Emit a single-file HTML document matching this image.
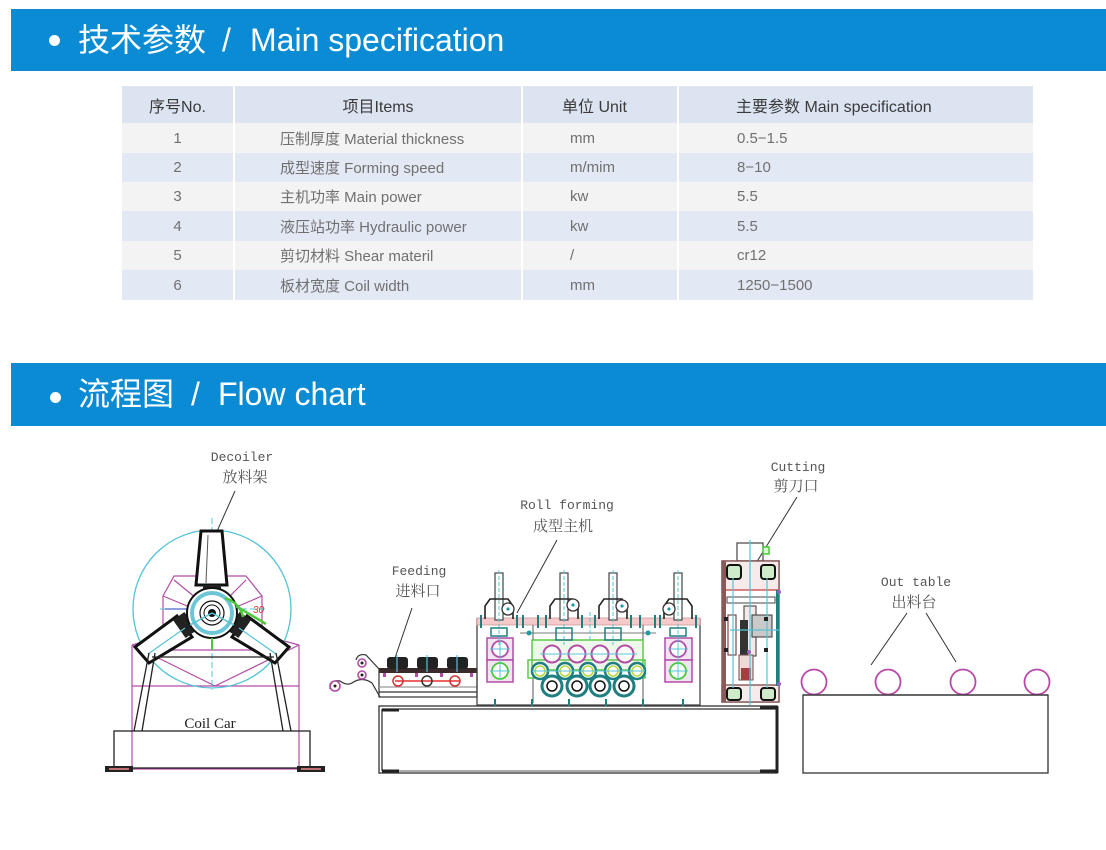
<!DOCTYPE html>
<html><head><meta charset="utf-8">
<style>
*{margin:0;padding:0;box-sizing:border-box}
body{width:1106px;height:850px;background:#fff;position:relative;overflow:hidden;font-family:"Liberation Sans","Noto Sans CJK SC",sans-serif}
.ban{position:absolute;left:11px;width:1095px;height:62px;background:#0a8bd3;color:#fff;font-size:32px;line-height:62px}
.ban span{position:absolute;top:0;white-space:nowrap}
.ban .dot{position:absolute;width:11px;height:11px;border-radius:50%;background:#fff;top:26px;left:38px}
.tbl{position:absolute;left:122px;top:86px;width:911px}
.row{position:absolute;left:0;width:911px;display:flex}
.row div{height:100%;border-right:2px solid #fff;display:flex;align-items:center;white-space:nowrap}
.row div:last-child{border-right:none}
.c1{width:113px;justify-content:center}
.c2{width:288px;padding-left:45px}
.c3{width:156px;padding-left:47px}
.c4{width:354px;padding-left:58px}
.h{background:#dce4f2;color:#3a3a3a;font-size:16px}
.h .c2{justify-content:center;padding-left:0}
.h .c3{padding-left:39px}
.h .c4{padding-left:57px}
.o{background:#f3f3f3;color:#707070;font-size:15px}
.e{background:#e2e9f5;color:#707070;font-size:15px}
</style></head><body>

<div class="ban" style="top:9px">
<div class="dot"></div>
<span style="left:67px">技术参数</span>
<span style="left:211px">/</span>
<span style="left:239px">Main specification</span>
</div>

<div class="tbl">
<div class="row h" style="top:0;height:37px"><div class="c1">序号No.</div><div class="c2">项目Items</div><div class="c3">单位 Unit</div><div class="c4">主要参数 Main specification</div></div>
<div class="row o" style="top:37px;height:30px"><div class="c1">1</div><div class="c2">压制厚度 Material thickness</div><div class="c3">mm</div><div class="c4">0.5−1.5</div></div>
<div class="row e" style="top:67px;height:29px"><div class="c1">2</div><div class="c2">成型速度 Forming speed</div><div class="c3">m/mim</div><div class="c4">8−10</div></div>
<div class="row o" style="top:96px;height:29px"><div class="c1">3</div><div class="c2">主机功率 Main power</div><div class="c3">kw</div><div class="c4">5.5</div></div>
<div class="row e" style="top:125px;height:30px"><div class="c1">4</div><div class="c2">液压站功率 Hydraulic power</div><div class="c3">kw</div><div class="c4">5.5</div></div>
<div class="row o" style="top:155px;height:29px"><div class="c1">5</div><div class="c2">剪切材料 Shear materil</div><div class="c3">/</div><div class="c4">cr12</div></div>
<div class="row e" style="top:184px;height:30px"><div class="c1">6</div><div class="c2">板材宽度 Coil width</div><div class="c3">mm</div><div class="c4">1250−1500</div></div>
</div>

<div class="ban" style="top:363px;height:63px;line-height:63px">
<div class="dot" style="top:29px;left:39px"></div>
<span style="left:67px">流程图</span>
<span style="left:180px">/</span>
<span style="left:207px">Flow chart</span>
</div>

<svg width="1106" height="850" style="position:absolute;left:0;top:0" xmlns="http://www.w3.org/2000/svg">
<!-- ===== Labels ===== -->
<g fill="#555" text-anchor="middle">
<g font-family="Liberation Mono, monospace" font-size="13">
<text x="242" y="461">Decoiler</text>
<text x="419" y="575">Feeding</text>
<text x="567" y="509">Roll forming</text>
<text x="798" y="471">Cutting</text>
<text x="916" y="586">Out table</text>
</g>
<g font-family="Noto Serif CJK SC, serif" font-size="15">
<text x="245" y="482">放料架</text>
<text x="418" y="596">进料口</text>
<text x="563" y="531">成型主机</text>
<text x="796" y="491">剪刀口</text>
<text x="914" y="607">出料台</text>
</g>
</g>
<g stroke="#333" stroke-width="1">
<line x1="235" y1="491" x2="210" y2="547"/>
<line x1="412" y1="608" x2="395" y2="658"/>
<line x1="557" y1="540" x2="517" y2="613"/>
<line x1="797" y1="497" x2="753" y2="568"/>
<line x1="907" y1="613" x2="871" y2="665"/>
<line x1="926" y1="613" x2="956" y2="662"/>
</g>

<!-- ===== Decoiler ===== -->
<g fill="none">
<g stroke="#b24ca6" stroke-width="1.2">
<line x1="132" y1="645" x2="132" y2="769"/>
<line x1="299" y1="645" x2="299" y2="769"/>
<polyline points="132,645 215,686 299,645"/>
<line x1="132" y1="686" x2="299" y2="686"/>
<line x1="132" y1="769" x2="299" y2="769"/>
<polyline points="152,650 163,625 163,596 174,576 246,576 262,596 262,625 275,650"/>
<line x1="163" y1="596" x2="192" y2="608"/>
<line x1="262" y1="596" x2="234" y2="608"/>
<line x1="174" y1="580" x2="196" y2="598"/>
<line x1="246" y1="580" x2="228" y2="598"/>
<line x1="132" y1="645" x2="190" y2="628"/>
<line x1="299" y1="645" x2="236" y2="628"/>
<line x1="150" y1="650" x2="275" y2="650"/>
</g>
<circle cx="212" cy="609" r="79" stroke="#55c3d5" stroke-width="1.3"/>
<g stroke="#55c3d5" stroke-width="1" stroke-dasharray="6,3">
<line x1="212" y1="518" x2="212" y2="690"/>
<line x1="160" y1="609" x2="266" y2="609"/>
</g>
<line x1="165" y1="609" x2="200" y2="609" stroke="#6a7fd0" stroke-width="1.5"/>
<!-- arms -->
<g stroke="#111" stroke-width="3" fill="#fff">
<polygon points="201,531 222,531 227,585 196,585"/>
<polygon points="135,647 177,616 192,637 149,663"/>
<polygon points="289,647 247,616 232,637 275,663"/>
</g>
<line x1="208" y1="535" x2="206" y2="583" stroke="#555" stroke-width="1"/>
<rect x="203" y="585" width="18" height="8" fill="#222"/>
<rect x="178" y="614" width="14" height="22" fill="#222" transform="rotate(-35 185 625)"/>
<rect x="232" y="614" width="14" height="22" fill="#222" transform="rotate(35 239 625)"/>
<line x1="148" y1="654" x2="185" y2="628" stroke="#55c3d5" stroke-width="1.2"/>
<line x1="276" y1="654" x2="239" y2="628" stroke="#55c3d5" stroke-width="1.2"/>
<!-- hub -->
<circle cx="212" cy="613" r="25" stroke="#111" stroke-width="2" fill="#fff"/>
<circle cx="212" cy="613" r="20" stroke="#6cc6d6" stroke-width="4"/>
<circle cx="212" cy="613" r="12" stroke="#111" stroke-width="1.2"/>
<circle cx="212" cy="613" r="8" stroke="#111" stroke-width="1"/>
<circle cx="212" cy="613" r="4" fill="#111"/>
<line x1="212" y1="613" x2="190" y2="625" stroke="#55c3d5" stroke-width="1.5"/>
<line x1="212" y1="613" x2="234" y2="625" stroke="#55c3d5" stroke-width="1.5"/>
<!-- green angle -->
<path d="M225,598 Q240,603 243,617" stroke="#4cc83a" stroke-width="2.5"/>
<line x1="236" y1="606" x2="266" y2="624" stroke="#4cc83a" stroke-width="2.5"/>
<line x1="212" y1="638" x2="212" y2="650" stroke="#4cc83a" stroke-width="2"/>
<text x="253" y="613" fill="#e83030" font-size="10" font-family="Liberation Sans, sans-serif" font-style="italic">30</text>
<!-- legs -->
<g stroke="#222" stroke-width="1.3">
<line x1="149" y1="653" x2="134" y2="731"/>
<line x1="155" y1="653" x2="142" y2="731"/>
<line x1="276" y1="653" x2="291" y2="731"/>
<line x1="270" y1="653" x2="283" y2="731"/>
<line x1="152" y1="657" x2="274" y2="657"/>
<rect x="114" y="731" width="196" height="37"/>
</g>
<rect x="105" y="766" width="28" height="6" fill="#222"/>
<rect x="109" y="768" width="20" height="2" fill="#c07070"/>
<rect x="297" y="766" width="28" height="6" fill="#222"/>
<rect x="301" y="768" width="20" height="2" fill="#c07070"/>
<text x="210" y="728" fill="#222" font-size="15" font-family="Liberation Serif, serif" text-anchor="middle">Coil Car</text>
</g>

<!-- ===== Feeding ===== -->
<g fill="none" stroke="#333" stroke-width="1.2">
<path d="M356,660 Q358,653 366,655 L380,670"/>
<path d="M330,689 Q330,679 340,681 Q347,686 352,683 Q362,676 372,683 L380,697"/>
<rect x="379" y="669" width="98" height="28"/>
<line x1="379" y1="687" x2="477" y2="687" stroke="#999"/>
<line x1="379" y1="692" x2="477" y2="692"/>
</g>
<rect x="379" y="668" width="98" height="5" fill="#3a2a2a"/>
<g fill="none" stroke="#b24ca6" stroke-width="1.6">
<circle cx="362" cy="663" r="4"/>
<circle cx="362" cy="675" r="4"/>
<circle cx="335" cy="686" r="5"/>
</g>
<circle cx="362" cy="663" r="1.5" fill="#222"/>
<circle cx="362" cy="675" r="1.5" fill="#222"/>
<circle cx="335" cy="686" r="1.5" fill="#222"/>
<g fill="#222">
<rect x="387" y="657" width="21" height="12" rx="3"/>
<rect x="417" y="657" width="21" height="12" rx="3"/>
<rect x="447" y="657" width="21" height="12" rx="3"/>
</g>
<g stroke="#55c3d5" stroke-width="1.2">
<line x1="397" y1="655" x2="397" y2="672"/>
<line x1="427" y1="655" x2="427" y2="672"/>
<line x1="457" y1="655" x2="457" y2="672"/>
</g>
<line x1="395" y1="681" x2="460" y2="681" stroke="#e83030" stroke-width="1.6"/>
<g fill="none" stroke-width="1.5">
<circle cx="398" cy="681" r="5" stroke="#c33"/>
<circle cx="427" cy="681" r="5" stroke="#333"/>
<circle cx="455" cy="681" r="5" stroke="#c33"/>
</g>
<g fill="#b24ca6"><rect x="383" y="673" width="3" height="4"/><rect x="415" y="673" width="3" height="4"/><rect x="440" y="673" width="3" height="4"/><rect x="470" y="673" width="3" height="4"/></g>

<!-- ===== Base under feeding/roll/cutting ===== -->
<g fill="none" stroke="#333" stroke-width="1.3">
<rect x="379" y="706" width="398" height="67"/>
<line x1="382" y1="709" x2="777" y2="709"/>
<line x1="382" y1="709" x2="382" y2="771"/>
<line x1="382" y1="771" x2="777" y2="771" stroke="#777"/>
</g>
<g stroke="#222" stroke-width="3">
<line x1="382" y1="710" x2="399" y2="710"/>
<line x1="382" y1="771" x2="399" y2="771"/>
<line x1="760" y1="708" x2="777" y2="708"/>
<line x1="760" y1="771" x2="777" y2="771"/>
<line x1="777" y1="706" x2="777" y2="773"/>
</g>

<!-- ===== Roll forming ===== -->
<g fill="none">
<rect x="477" y="619" width="223" height="86" stroke="#444" stroke-width="1.3"/>
<rect x="477" y="618" width="223" height="7" fill="#f6caca" stroke="#c99" stroke-width="0.8"/>
<line x1="533" y1="625" x2="533" y2="703" stroke="#555"/>
<line x1="643" y1="625" x2="643" y2="703" stroke="#555"/>
<line x1="520" y1="633" x2="656" y2="633" stroke="#777"/>
<!-- left/right gear boxes -->
<g stroke="#b24ca6" stroke-width="1.5" fill="#f3e4f1">
<rect x="487" y="638" width="26" height="22"/>
<rect x="487" y="660" width="26" height="22"/>
<rect x="665" y="638" width="27" height="22"/>
<rect x="665" y="660" width="27" height="22"/>
</g>
<g stroke-width="1.8">
<circle cx="500" cy="649" r="8" stroke="#b24ca6" fill="#fff"/>
<circle cx="500" cy="671" r="8" stroke="#4cc83a" fill="#fff"/>
<circle cx="678" cy="649" r="8" stroke="#b24ca6" fill="#fff"/>
<circle cx="678" cy="671" r="8" stroke="#4cc83a" fill="#fff"/>
</g>
<g stroke="#55c3d5" stroke-width="1">
<line x1="490" y1="649" x2="510" y2="649"/><line x1="500" y1="640" x2="500" y2="680"/><line x1="490" y1="671" x2="510" y2="671"/>
<line x1="668" y1="649" x2="688" y2="649"/><line x1="678" y1="640" x2="678" y2="680"/><line x1="668" y1="671" x2="688" y2="671"/>
</g>
<!-- green frames -->
<rect x="532" y="640" width="111" height="30" stroke="#5cc84a" stroke-width="1.5" fill="#eef8ea"/>
<rect x="528" y="660" width="117" height="18" stroke="#5cc84a" stroke-width="1.5"/>
<!-- rollers -->
<g stroke="#1f7f80" stroke-width="3" fill="#fff">
<circle cx="552" cy="686" r="10"/><circle cx="577" cy="686" r="10"/><circle cx="600" cy="686" r="10"/><circle cx="624" cy="686" r="10"/>
</g>
<g stroke="#111" stroke-width="1.5" fill="none">
<circle cx="552" cy="686" r="5"/><circle cx="577" cy="686" r="5"/><circle cx="600" cy="686" r="5"/><circle cx="624" cy="686" r="5"/>
</g>
<g stroke="#b24ca6" stroke-width="2" fill="#fff">
<circle cx="552" cy="654" r="8.5"/><circle cx="577" cy="654" r="8.5"/><circle cx="600" cy="654" r="8.5"/><circle cx="625" cy="654" r="8.5"/>
</g>
<g stroke="#1f7f80" stroke-width="2.5" fill="#fff">
<circle cx="540" cy="671" r="8"/><circle cx="565" cy="671" r="8"/><circle cx="588" cy="671" r="8"/><circle cx="613" cy="671" r="8"/><circle cx="637" cy="671" r="8"/>
</g>
<g stroke="#b5d83a" stroke-width="1.5" fill="none">
<circle cx="540" cy="671" r="5"/><circle cx="565" cy="671" r="5"/><circle cx="588" cy="671" r="5"/><circle cx="613" cy="671" r="5"/><circle cx="637" cy="671" r="5"/>
</g>
<g stroke="#55c3d5" stroke-width="1">
<line x1="540" y1="654" x2="637" y2="654"/><line x1="532" y1="671" x2="645" y2="671"/>
</g>
<!-- posts and heads -->
<g stroke="#444" stroke-width="1.2" fill="#fff">
<rect x="495" y="573" width="8" height="47"/>
<rect x="560" y="573" width="8" height="47"/>
<rect x="609" y="573" width="8" height="47"/>
<rect x="674" y="573" width="8" height="47"/>
</g>
<g stroke="#55c3d5" stroke-width="1" stroke-dasharray="4,2">
<line x1="499" y1="570" x2="499" y2="645"/>
<line x1="564" y1="570" x2="564" y2="645"/>
<line x1="613" y1="570" x2="613" y2="645"/>
<line x1="678" y1="570" x2="678" y2="645"/>
<line x1="590" y1="612" x2="590" y2="640"/>
</g>
<g stroke="#222" stroke-width="1.6">
<path d="M485,619 L485,606 L490,599 L508,599 L513,606 L513,619"/>
<path d="M550,619 L550,606 L555,599 L573,599 L578,606 L578,619"/>
<path d="M599,619 L599,606 L604,599 L622,599 L627,606 L627,619"/>
<path d="M664,619 L664,606 L669,599 L687,599 L692,606 L692,619"/>
</g>
<g stroke="#333" stroke-width="1.3" fill="#fff">
<circle cx="508" cy="609" r="6"/><circle cx="573" cy="605" r="6"/><circle cx="622" cy="606" r="6"/><circle cx="669" cy="609" r="6"/>
</g>
<g fill="#1f9aa0">
<circle cx="508" cy="609" r="1.6"/><circle cx="573" cy="605" r="1.6"/><circle cx="622" cy="606" r="1.6"/><circle cx="669" cy="609" r="1.6"/>
<circle cx="529" cy="633" r="2.5"/><circle cx="648" cy="633" r="2.5"/>
</g>
<g stroke="#1f7f80" stroke-width="2">
<line x1="481" y1="615" x2="481" y2="628"/><line x1="517" y1="615" x2="517" y2="628"/><line x1="523" y1="615" x2="523" y2="628"/>
<line x1="538" y1="615" x2="538" y2="628"/><line x1="546" y1="615" x2="546" y2="628"/><line x1="582" y1="615" x2="582" y2="628"/>
<line x1="595" y1="615" x2="595" y2="628"/><line x1="631" y1="615" x2="631" y2="628"/><line x1="640" y1="615" x2="640" y2="628"/>
<line x1="655" y1="615" x2="655" y2="628"/><line x1="660" y1="615" x2="660" y2="628"/><line x1="696" y1="615" x2="696" y2="628"/>
<line x1="495" y1="699" x2="495" y2="706"/><line x1="532" y1="699" x2="532" y2="706"/><line x1="569" y1="699" x2="569" y2="706"/>
<line x1="606" y1="699" x2="606" y2="706"/><line x1="643" y1="699" x2="643" y2="706"/><line x1="683" y1="699" x2="683" y2="706"/>
</g>
<g stroke="#1f7f80" stroke-width="1.5" fill="none">
<rect x="491" y="628" width="16" height="8"/><rect x="556" y="628" width="16" height="12"/><rect x="605" y="628" width="16" height="12"/><rect x="670" y="628" width="16" height="8"/>
</g>
</g>

<!-- ===== Cutting ===== -->
<g fill="none">
<rect x="737" y="543" width="26" height="18" stroke="#444" stroke-width="1.2"/>
<rect x="763" y="547" width="6" height="7" stroke="#4cc83a" stroke-width="1.5" fill="#dff3d8"/>
<rect x="722" y="561" width="57" height="141" stroke="#7a4a4a" stroke-width="1.3"/>
<rect x="722" y="561" width="57" height="29" stroke="#7a4a4a" stroke-width="1.3" fill="#f7eaea"/>
<rect x="722" y="685" width="57" height="17" stroke="#7a4a4a" stroke-width="1.3" fill="#f7eaea"/>
<rect x="722" y="561" width="4" height="141" fill="#8a5a5a"/>
<line x1="726" y1="590" x2="779" y2="590" stroke="#d44" stroke-width="1"/>
<rect x="727" y="565" width="14" height="14" rx="3" stroke="#111" stroke-width="2" fill="#cfeac8"/>
<rect x="761" y="565" width="14" height="14" rx="3" stroke="#111" stroke-width="2" fill="#cfeac8"/>
<rect x="727" y="688" width="14" height="12" rx="3" stroke="#111" stroke-width="2" fill="#cfeac8"/>
<rect x="761" y="688" width="14" height="12" rx="3" stroke="#111" stroke-width="2" fill="#cfeac8"/>
<rect x="727" y="597" width="48" height="6" stroke="#444" stroke-width="1"/>
<rect x="744" y="606" width="12" height="50" stroke="#555" stroke-width="1.2" fill="#f7e7e7"/>
<rect x="728" y="615" width="8" height="40" stroke="#7a4a4a" stroke-width="1.2"/>
<rect x="752" y="615" width="20" height="22" stroke="#333" stroke-width="1" fill="#c9c9c9"/>
<rect x="740" y="620" width="8" height="45" fill="#333"/>
<rect x="739" y="655" width="14" height="25" stroke="#7a4a4a" stroke-width="1" fill="#efd8d8"/>
<rect x="741" y="668" width="10" height="12" fill="#a04040"/>
<rect x="776" y="590" width="3" height="96" fill="#1f7f80"/>
<g stroke="#55c3d5" stroke-width="1.2">
<line x1="750" y1="540" x2="750" y2="705"/>
<line x1="733" y1="578" x2="733" y2="688"/>
<line x1="767" y1="578" x2="767" y2="688"/>
<line x1="730" y1="630" x2="779" y2="630"/>
</g>
<g fill="#222">
<rect x="724" y="617" width="4" height="4"/><rect x="724" y="648" width="4" height="4"/><rect x="764" y="617" width="4" height="4"/><rect x="764" y="648" width="4" height="4"/>
</g>
<g fill="#9b5fc0"><circle cx="779" cy="592" r="2"/><circle cx="779" cy="684" r="2"/><circle cx="749" cy="652" r="2"/></g>
</g>

<!-- ===== Out table ===== -->
<rect x="803" y="695" width="245" height="78" fill="none" stroke="#333" stroke-width="1.3"/>
<g fill="#fff" stroke="#b84aa8" stroke-width="1.8">
<circle cx="814" cy="682" r="12.5"/>
<circle cx="888" cy="682" r="12.5"/>
<circle cx="963" cy="682" r="12.5"/>
<circle cx="1037" cy="682" r="12.5"/>
</g>
<line x1="803" y1="695" x2="1048" y2="695" stroke="#333" stroke-width="1.3"/>
</svg>
</body></html>
